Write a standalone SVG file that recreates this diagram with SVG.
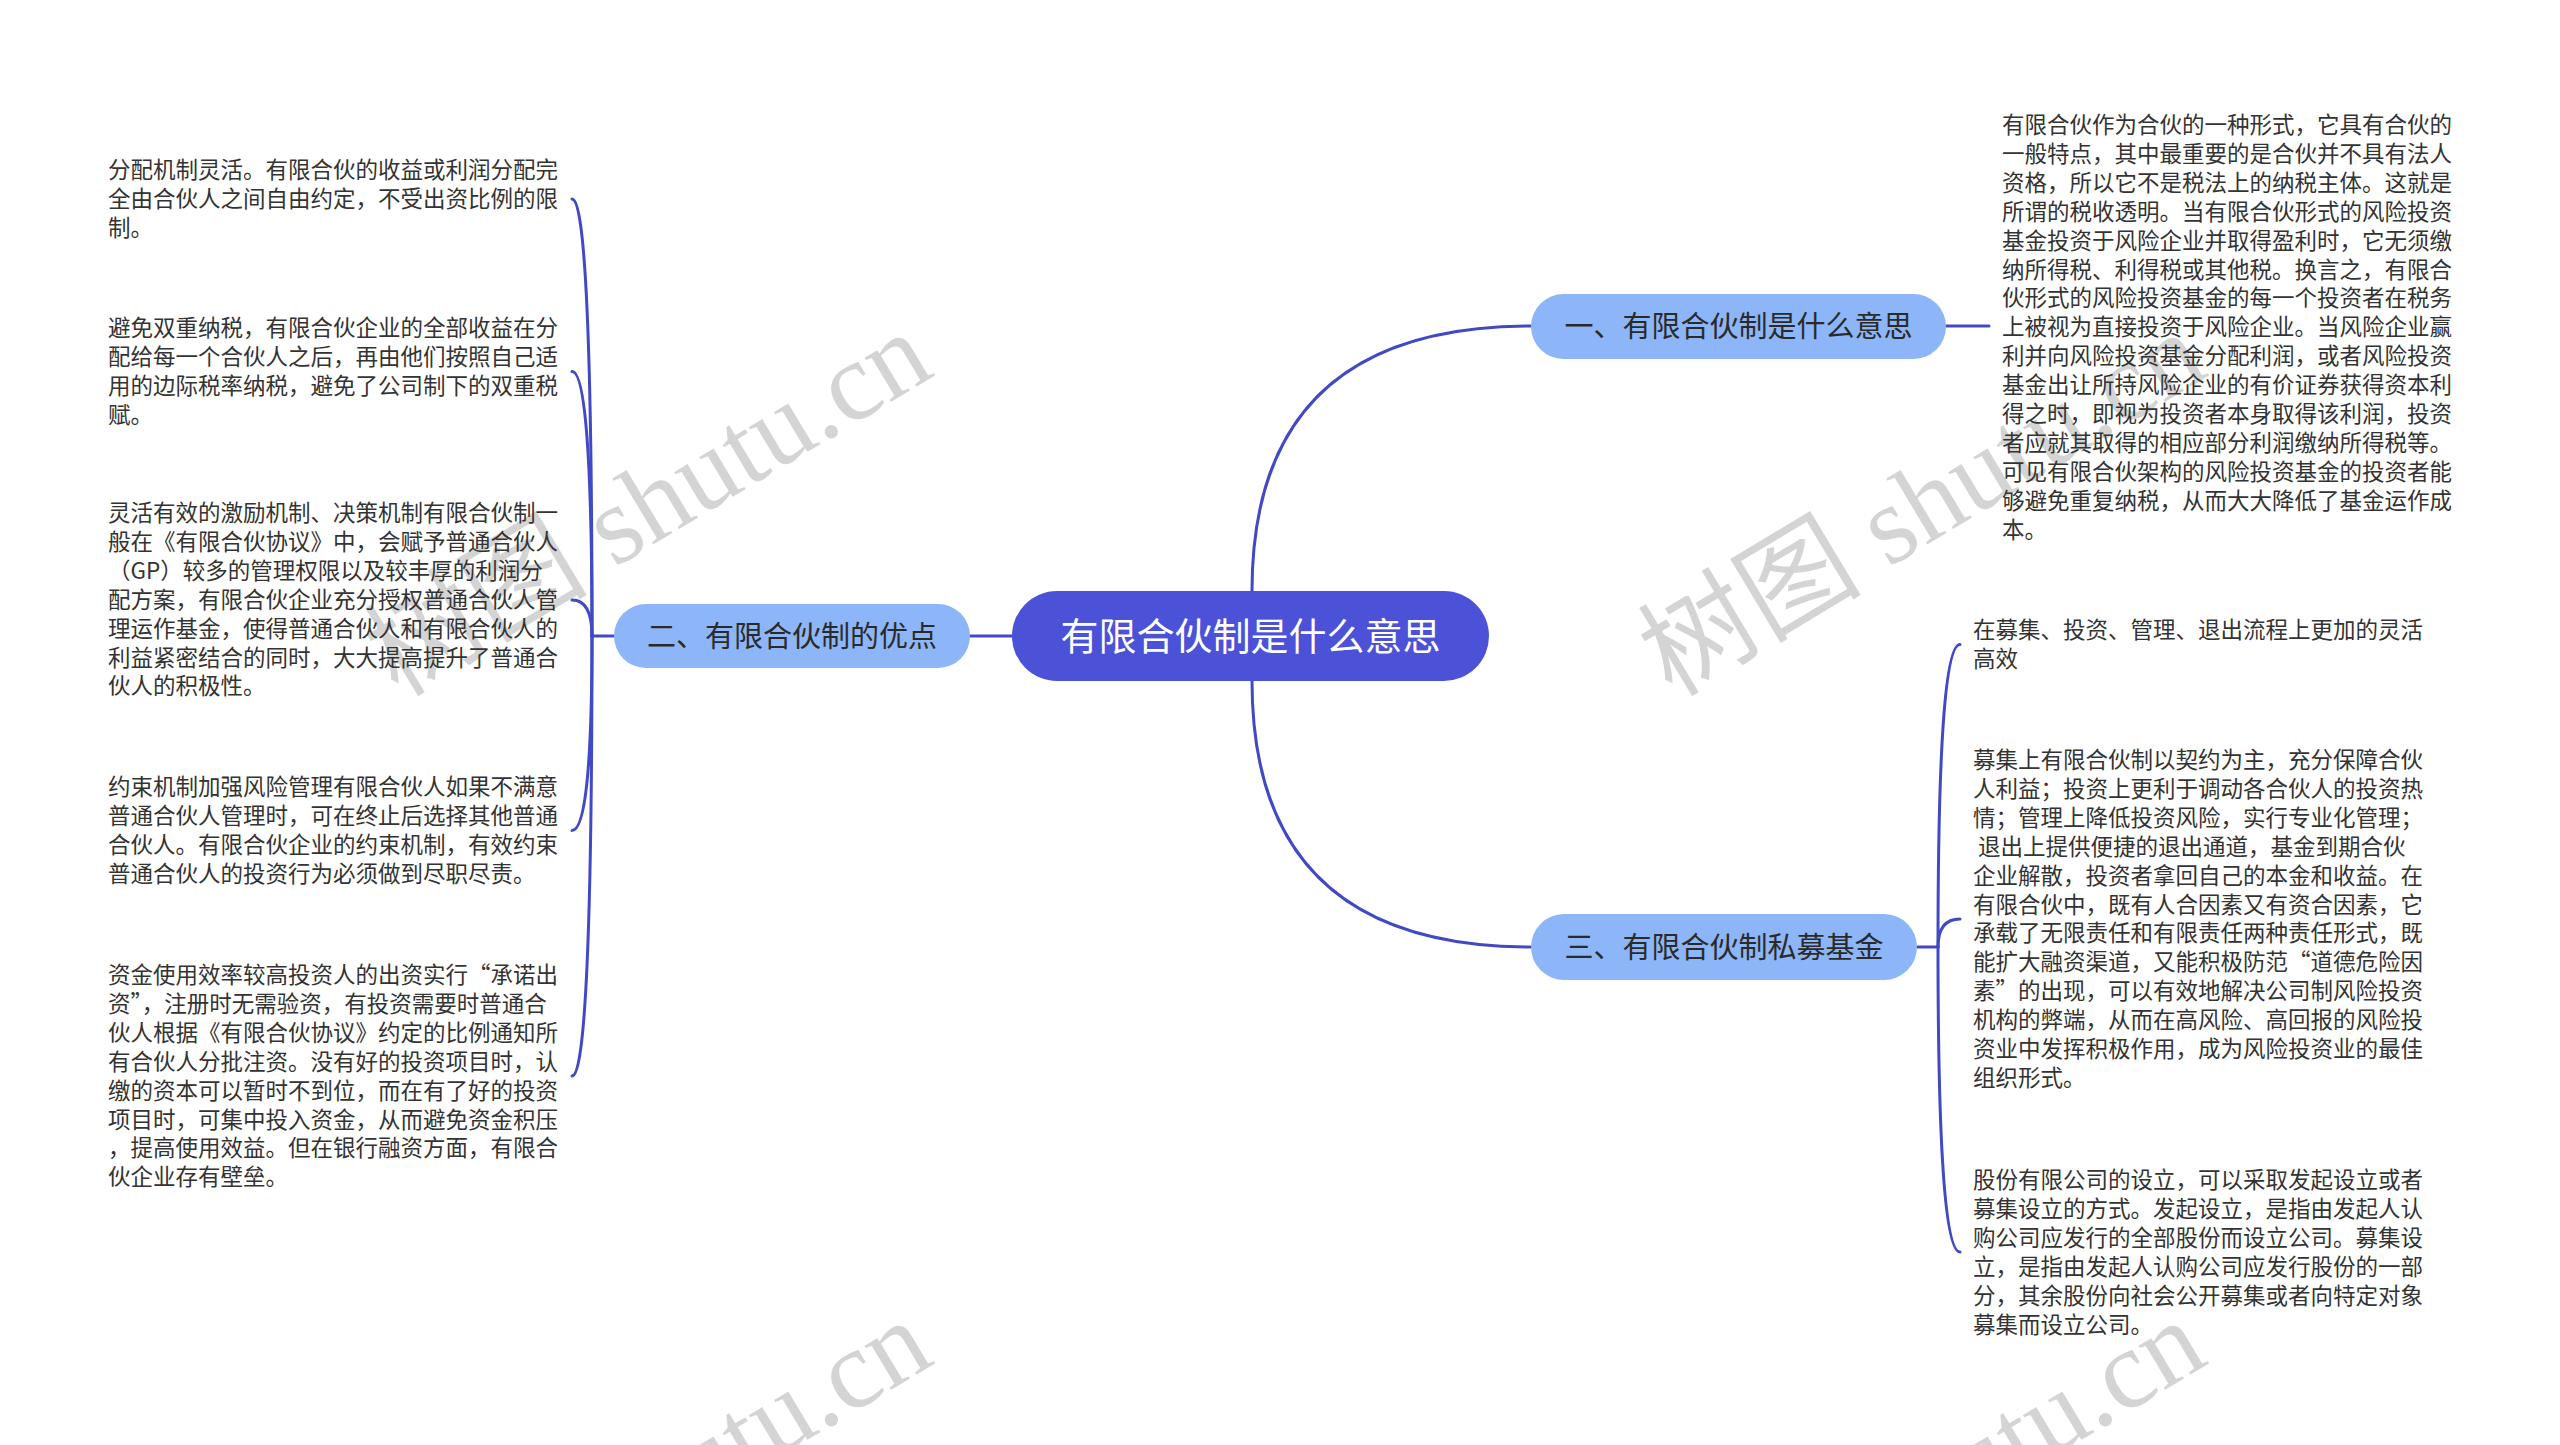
<svg xmlns="http://www.w3.org/2000/svg" width="2560" height="1445" viewBox="0 0 2560 1445">
<style>
.conn{fill:none;stroke:#4249C4;stroke-width:3;stroke-linecap:round}
.t{font-family:"Noto Sans CJK SC","Noto Sans CJK TC",sans-serif;font-size:22.5px;fill:#333}
.nt{font-family:"Noto Sans CJK SC",sans-serif;font-size:29px;fill:#2a2a2a;text-anchor:middle}
.ct{font-family:"Noto Sans CJK SC",sans-serif;font-size:38px;fill:#ffffff;text-anchor:middle}
.sub{fill:#8DB6F8}
.root{fill:#4B52D8}
.wm{font-family:"Liberation Serif","Noto Sans CJK SC",serif;font-size:112px;fill:#000;fill-opacity:0.17}
</style>
<rect width="2560" height="1445" fill="#ffffff"/>
<g id="watermarks">
<text class="wm" transform="translate(398,698) rotate(-31)">树图 shutu.cn</text>
<text class="wm" transform="translate(1672,698) rotate(-31)">树图 shutu.cn</text>
<text class="wm" transform="translate(398,1686) rotate(-31)">树图 shutu.cn</text>
<text class="wm" transform="translate(1672,1686) rotate(-31)">树图 shutu.cn</text>
</g>
<g id="connectors">
<path class="conn" d="M1252,591 Q1252,326 1531,326"/>
<path class="conn" d="M1252,681 Q1252,947 1531,947"/>
<path class="conn" d="M1012,636 L970,636"/>
<path class="conn" d="M1946,326 L1989,326"/>
<path class="conn" d="M1917,947 L1938,947"/>
<path class="conn" d="M1938,947 Q1938,644.5 1960,644.5"/>
<path class="conn" d="M1938,947 Q1938,919 1960,919"/>
<path class="conn" d="M1938,947 Q1938,1252 1960,1252"/>
<path class="conn" d="M614,636 L592,636"/>
<path class="conn" d="M592,636 Q592,199 572,199"/>
<path class="conn" d="M592,636 Q592,371.5 572,371.5"/>
<path class="conn" d="M592,636 Q592,600 572,600"/>
<path class="conn" d="M592,636 Q592,830.5 572,830.5"/>
<path class="conn" d="M592,636 Q592,1076 572,1076"/>
</g>
<g id="root">
<rect class="root" x="1012" y="591" width="477" height="90" rx="45"/>
<text class="ct" x="1250.5" y="650">有限合伙制是什么意思</text>
</g>
<g id="node1">
<rect class="sub" x="1531" y="294" width="415" height="65" rx="32.5"/>
<text class="nt" x="1738.5" y="337">一、有限合伙制是什么意思</text>
</g>
<g id="node2">
<rect class="sub" x="614" y="604" width="356" height="64" rx="32"/>
<text class="nt" x="792" y="647">二、有限合伙制的优点</text>
</g>
<g id="node3">
<rect class="sub" x="1531" y="914" width="386" height="66" rx="33"/>
<text class="nt" x="1724" y="958">三、有限合伙制私募基金</text>
</g>
<g id="leaf-n1">
<text class="t">
<tspan x="2002" y="133">有限合伙作为合伙的一种形式，它具有合伙的</tspan>
<tspan x="2002" y="161.9">一般特点，其中最重要的是合伙并不具有法人</tspan>
<tspan x="2002" y="190.8">资格，所以它不是税法上的纳税主体。这就是</tspan>
<tspan x="2002" y="219.7">所谓的税收透明。当有限合伙形式的风险投资</tspan>
<tspan x="2002" y="248.6">基金投资于风险企业并取得盈利时，它无须缴</tspan>
<tspan x="2002" y="277.5">纳所得税、利得税或其他税。换言之，有限合</tspan>
<tspan x="2002" y="306.4">伙形式的风险投资基金的每一个投资者在税务</tspan>
<tspan x="2002" y="335.3">上被视为直接投资于风险企业。当风险企业赢</tspan>
<tspan x="2002" y="364.2">利并向风险投资基金分配利润，或者风险投资</tspan>
<tspan x="2002" y="393.1">基金出让所持风险企业的有价证券获得资本利</tspan>
<tspan x="2002" y="422">得之时，即视为投资者本身取得该利润，投资</tspan>
<tspan x="2002" y="450.9">者应就其取得的相应部分利润缴纳所得税等。</tspan>
<tspan x="2002" y="479.8">可见有限合伙架构的风险投资基金的投资者能</tspan>
<tspan x="2002" y="508.7">够避免重复纳税，从而大大降低了基金运作成</tspan>
<tspan x="2002" y="537.6">本。</tspan>
</text>
</g>
<g id="leaf-n3a">
<text class="t">
<tspan x="1973" y="638">在募集、投资、管理、退出流程上更加的灵活</tspan>
<tspan x="1973" y="666.9">高效</tspan>
</text>
</g>
<g id="leaf-n3b">
<text class="t" xml:space="preserve"><tspan x="1973" y="768">募集上有限合伙制以契约为主，充分保障合伙</tspan><tspan x="1973" y="796.9">人利益；投资上更利于调动各合伙人的投资热</tspan><tspan x="1973" y="825.8">情；管理上降低投资风险，实行专业化管理；</tspan><tspan x="1973" y="854.7"> 退出上提供便捷的退出通道，基金到期合伙</tspan><tspan x="1973" y="883.6">企业解散，投资者拿回自己的本金和收益。在</tspan><tspan x="1973" y="912.5">有限合伙中，既有人合因素又有资合因素，它</tspan><tspan x="1973" y="941.4">承载了无限责任和有限责任两种责任形式，既</tspan><tspan x="1973" y="970.3">能扩大融资渠道，又能积极防范“道德危险因</tspan><tspan x="1973" y="999.2">素”的出现，可以有效地解决公司制风险投资</tspan><tspan x="1973" y="1028.1">机构的弊端，从而在高风险、高回报的风险投</tspan><tspan x="1973" y="1057">资业中发挥积极作用，成为风险投资业的最佳</tspan><tspan x="1973" y="1085.9">组织形式。</tspan></text>
</g>
<g id="leaf-n3c">
<text class="t">
<tspan x="1973" y="1188">股份有限公司的设立，可以采取发起设立或者</tspan>
<tspan x="1973" y="1216.9">募集设立的方式。发起设立，是指由发起人认</tspan>
<tspan x="1973" y="1245.8">购公司应发行的全部股份而设立公司。募集设</tspan>
<tspan x="1973" y="1274.7">立，是指由发起人认购公司应发行股份的一部</tspan>
<tspan x="1973" y="1303.6">分，其余股份向社会公开募集或者向特定对象</tspan>
<tspan x="1973" y="1332.5">募集而设立公司。</tspan>
</text>
</g>
<g id="leaf-n2a">
<text class="t">
<tspan x="108" y="178">分配机制灵活。有限合伙的收益或利润分配完</tspan>
<tspan x="108" y="206.9">全由合伙人之间自由约定，不受出资比例的限</tspan>
<tspan x="108" y="235.8">制。</tspan>
</text>
</g>
<g id="leaf-n2b">
<text class="t">
<tspan x="108" y="336">避免双重纳税，有限合伙企业的全部收益在分</tspan>
<tspan x="108" y="364.9">配给每一个合伙人之后，再由他们按照自己适</tspan>
<tspan x="108" y="393.8">用的边际税率纳税，避免了公司制下的双重税</tspan>
<tspan x="108" y="422.7">赋。</tspan>
</text>
</g>
<g id="leaf-n2c">
<text class="t">
<tspan x="108" y="521">灵活有效的激励机制、决策机制有限合伙制一</tspan>
<tspan x="108" y="549.9">般在《有限合伙协议》中，会赋予普通合伙人</tspan>
<tspan x="108" y="578.8">（GP）较多的管理权限以及较丰厚的利润分</tspan>
<tspan x="108" y="607.7">配方案，有限合伙企业充分授权普通合伙人管</tspan>
<tspan x="108" y="636.6">理运作基金，使得普通合伙人和有限合伙人的</tspan>
<tspan x="108" y="665.5">利益紧密结合的同时，大大提高提升了普通合</tspan>
<tspan x="108" y="694.4">伙人的积极性。</tspan>
</text>
</g>
<g id="leaf-n2d">
<text class="t">
<tspan x="108" y="795">约束机制加强风险管理有限合伙人如果不满意</tspan>
<tspan x="108" y="823.9">普通合伙人管理时，可在终止后选择其他普通</tspan>
<tspan x="108" y="852.8">合伙人。有限合伙企业的约束机制，有效约束</tspan>
<tspan x="108" y="881.7">普通合伙人的投资行为必须做到尽职尽责。</tspan>
</text>
</g>
<g id="leaf-n2e">
<text class="t">
<tspan x="108" y="983">资金使用效率较高投资人的出资实行“承诺出</tspan>
<tspan x="108" y="1011.9">资”，注册时无需验资，有投资需要时普通合</tspan>
<tspan x="108" y="1040.8">伙人根据《有限合伙协议》约定的比例通知所</tspan>
<tspan x="108" y="1069.7">有合伙人分批注资。没有好的投资项目时，认</tspan>
<tspan x="108" y="1098.6">缴的资本可以暂时不到位，而在有了好的投资</tspan>
<tspan x="108" y="1127.5">项目时，可集中投入资金，从而避免资金积压</tspan>
<tspan x="108" y="1156.4">，提高使用效益。但在银行融资方面，有限合</tspan>
<tspan x="108" y="1185.3">伙企业存有壁垒。</tspan>
</text>
</g>
</svg>
